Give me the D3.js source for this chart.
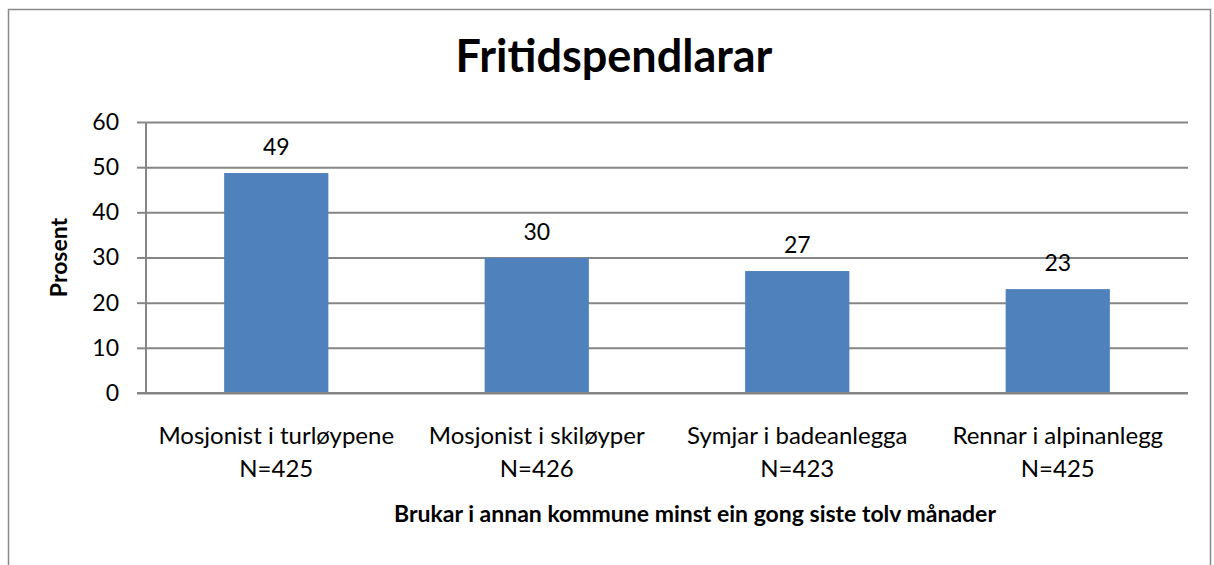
<!DOCTYPE html>
<html>
<head>
<meta charset="utf-8">
<script src="https://cdn.jsdelivr.net/npm/d3@7"></script>
<style>
  body { margin: 0; background: #fff; }
  text { font-family: Lato, "Open Sans", sans-serif; fill: #000; }
</style>
</head>
<body>
<svg id="chart"></svg>
<script>
'use strict';
const categories = ['Mosjonist i turløypene', 'Mosjonist i skiløyper', 'Symjar i badeanlegga', 'Rennar i alpinanlegg'];
const sampleSizes = ['N=425', 'N=426', 'N=423', 'N=425'];
const values = [48.7, 29.9, 27.0, 23.0];
const yTicks = [0, 10, 20, 30, 40, 50, 60];

const WIDTH = 1214, HEIGHT = 565;
const PLOT = { left: 146, right: 1188, top: 122, bottom: 393 };
const GRID = '#868686', BAR = '#4F81BD';

let svg = d3.select('#chart').attr('width', WIDTH).attr('height', HEIGHT);

// outer chart frame
svg.append('rect')
  .attr('x', 8.5).attr('y', 9.5)
  .attr('width', 1202).attr('height', 600)
  .attr('fill', 'none').attr('stroke', '#8a8a8a').attr('stroke-width', 1.5);

let data = categories.map((c, i) => ({ cat: c, n: sampleSizes[i], value: values[i] }));

let x = d3.scaleBand().domain(categories).range([PLOT.left, PLOT.right])
  .paddingInner(0.6).paddingOuter(0.3);
let y = d3.scaleLinear().domain([0, 60]).range([PLOT.bottom, PLOT.top]);

// gridlines + y ticks
let yAxis = d3.axisLeft(y).tickValues(yTicks).tickSize(9).tickPadding(18);
let yg = svg.append('g').attr('transform', `translate(${PLOT.left},0)`).call(yAxis);
yg.select('.domain').attr('stroke', GRID).attr('stroke-width', 2)
  .attr('d', `M0,${PLOT.top}V${PLOT.bottom}`);
yg.selectAll('.tick line').attr('stroke', GRID).attr('stroke-width', 2);
yg.selectAll('.tick text').attr('font-size', 23).attr('font-family', 'Lato, sans-serif').attr('fill', '#000');
yg.selectAll('.tick').append('line')
  .attr('x1', 0).attr('x2', PLOT.right - PLOT.left)
  .attr('stroke', GRID).attr('stroke-width', 2);

// bars
svg.selectAll('rect.bar')
  .data(data)
  .enter()
  .append('rect')
  .attr('class', 'bar')
  .attr('x', d => x(d.cat))
  .attr('width', x.bandwidth())
  .attr('y', d => y(d.value))
  .attr('height', d => y(0) - y(d.value))
  .attr('fill', BAR);

// redraw baseline on top of bars
svg.append('line')
  .attr('x1', PLOT.left - 9).attr('x2', PLOT.right)
  .attr('y1', y(0)).attr('y2', y(0))
  .attr('stroke', GRID).attr('stroke-width', 2);

// value labels
svg.selectAll('text.val')
  .data(data)
  .enter()
  .append('text')
  .attr('class', 'val')
  .attr('x', d => x(d.cat) + x.bandwidth() / 2)
  .attr('y', d => y(d.value) - 18)
  .attr('text-anchor', 'middle')
  .attr('font-size', 23)
  .text(d => Math.round(d.value));

// category labels
let cat = svg.selectAll('g.cat')
  .data(data)
  .enter()
  .append('g')
  .attr('class', 'cat')
  .attr('transform', d => `translate(${x(d.cat) + x.bandwidth() / 2},0)`);
cat.append('text').attr('y', 444).attr('text-anchor', 'middle').attr('font-size', 24).text(d => d.cat);
cat.append('text').attr('y', 477).attr('text-anchor', 'middle').attr('font-size', 24).text(d => d.n);

// title
svg.append('text')
  .attr('x', 614).attr('y', 72)
  .attr('text-anchor', 'middle')
  .attr('font-size', 45).attr('font-weight', 'bold')
  .text('Fritidspendlarar');

// axis titles
svg.append('text')
  .attr('transform', `translate(67,${(PLOT.top + PLOT.bottom) / 2}) rotate(-90)`)
  .attr('text-anchor', 'middle')
  .attr('font-size', 23).attr('font-weight', 'bold')
  .text('Prosent');

svg.append('text')
  .attr('x', 695).attr('y', 522)
  .attr('text-anchor', 'middle')
  .attr('font-size', 23).attr('font-weight', 'bold')
  .text('Brukar i annan kommune minst ein gong siste tolv månader');
</script>
</body>
</html>
